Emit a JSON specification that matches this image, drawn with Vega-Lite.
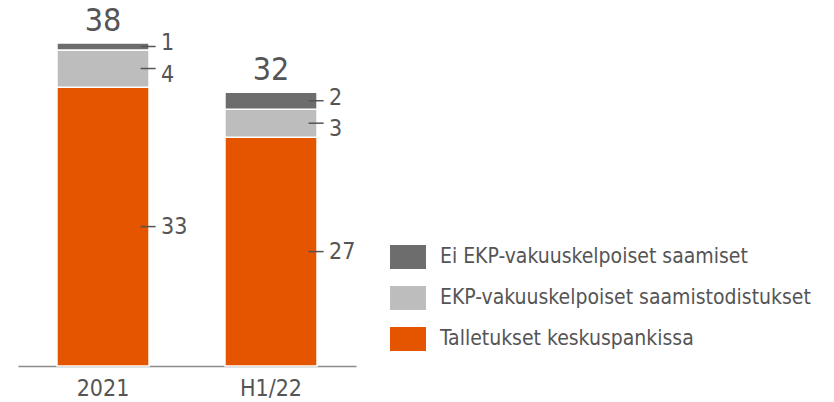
{
  "$schema": "https://vega.github.io/schema/vega-lite/v6.json",
  "width": 338,
  "height": 339,
  "autosize": {"type": "none"},
  "padding": {"left": 18, "top": 27, "right": 478, "bottom": 36},
  "background": "white",
  "config": {
    "view": {"stroke": null},
    "font": "DejaVu Sans Condensed, sans-serif",
    "text": {"font": "DejaVu Sans Condensed, sans-serif"}
  },
  "data": {
    "values": [
      {"period": "2021", "series": "Talletukset keskuspankissa", "value": 32.9, "rank": 1},
      {"period": "2021", "series": "EKP-vakuuskelpoiset saamistodistukset", "value": 4.4, "rank": 2},
      {"period": "2021", "series": "Ei EKP-vakuuskelpoiset saamiset", "value": 0.8, "rank": 3},
      {"period": "H1/22", "series": "Talletukset keskuspankissa", "value": 27.0, "rank": 1},
      {"period": "H1/22", "series": "EKP-vakuuskelpoiset saamistodistukset", "value": 3.3, "rank": 2},
      {"period": "H1/22", "series": "Ei EKP-vakuuskelpoiset saamiset", "value": 2.0, "rank": 3}
    ]
  },
  "layer": [
    {
      "mark": {"type": "bar", "stroke": "white", "strokeWidth": 1.5},
      "encoding": {
        "x": {
          "field": "period", "type": "nominal", "sort": null,
          "scale": {"paddingInner": 0.452, "paddingOuter": 0.232},
          "axis": {
            "title": null, "labelAngle": 0, "ticks": false,
            "domainColor": "#8c8c8c", "domainWidth": 1.5,
            "labelFontSize": 23, "labelColor": "#555555", "labelPadding": 11,
            "labelFont": "DejaVu Sans Condensed, sans-serif"
          }
        },
        "y": {
          "field": "value", "type": "quantitative", "stack": "zero",
          "scale": {"domain": [0, 40], "nice": false},
          "axis": null
        },
        "color": {
          "field": "series", "type": "nominal",
          "scale": {
            "domain": ["Ei EKP-vakuuskelpoiset saamiset", "EKP-vakuuskelpoiset saamistodistukset", "Talletukset keskuspankissa"],
            "range": ["#6d6d6d", "#bdbdbd", "#e55500"]
          },
          "legend": {
            "orient": "none", "legendX": 378, "legendY": 218, "title": null,
            "symbolType": "M-1.5,-1H1.5V1H-1.5Z", "symbolSize": 576, "symbolStrokeWidth": 0,
            "labelFontSize": 21, "labelColor": "#555555", "labelOffset": 20,
            "labelFont": "DejaVu Sans Condensed, sans-serif",
            "rowPadding": 17, "padding": 0, "labelLimit": 500
          }
        },
        "order": {"field": "rank", "type": "quantitative"}
      }
    },
    {
      "mark": {"type": "point", "shape": "M-1,0L1,0", "filled": false, "stroke": "#555555", "strokeWidth": 1.5, "size": 225, "opacity": 1},
      "encoding": {
        "x": {"field": "period", "type": "nominal", "sort": null, "bandPosition": 0.99},
        "y": {"field": "value", "type": "quantitative", "stack": "zero", "bandPosition": 0.5},
        "detail": {"field": "series"},
        "order": {"field": "rank", "type": "quantitative"}
      }
    },
    {
      "mark": {"type": "text", "align": "left", "baseline": "middle", "dx": 12, "fontSize": 23, "color": "#555555"},
      "encoding": {
        "x": {"field": "period", "type": "nominal", "sort": null, "bandPosition": 1},
        "y": {"field": "value", "type": "quantitative", "stack": "zero", "bandPosition": 0.5},
        "detail": {"field": "series"},
        "order": {"field": "rank", "type": "quantitative"},
        "text": {"condition": {"test": "datum.rank === 1", "field": "value", "type": "quantitative", "format": ".0f"}, "value": ""}
      }
    },
    {
      "mark": {"type": "text", "align": "left", "baseline": "middle", "dx": 12, "dy": 6, "fontSize": 23, "color": "#555555"},
      "encoding": {
        "x": {"field": "period", "type": "nominal", "sort": null, "bandPosition": 1},
        "y": {"field": "value", "type": "quantitative", "stack": "zero", "bandPosition": 0.5},
        "detail": {"field": "series"},
        "order": {"field": "rank", "type": "quantitative"},
        "text": {"condition": {"test": "datum.rank === 2", "field": "value", "type": "quantitative", "format": ".0f"}, "value": ""}
      }
    },
    {
      "mark": {"type": "text", "align": "left", "baseline": "middle", "dx": 12, "dy": -3, "fontSize": 23, "color": "#555555"},
      "encoding": {
        "x": {"field": "period", "type": "nominal", "sort": null, "bandPosition": 1},
        "y": {"field": "value", "type": "quantitative", "stack": "zero", "bandPosition": 0.5},
        "detail": {"field": "series"},
        "order": {"field": "rank", "type": "quantitative"},
        "text": {"condition": {"test": "datum.rank === 3", "field": "value", "type": "quantitative", "format": ".0f"}, "value": ""}
      }
    },
    {
      "mark": {"type": "text", "align": "center", "baseline": "alphabetic", "dy": -12, "fontSize": 32, "color": "#555555"},
      "encoding": {
        "x": {"field": "period", "type": "nominal", "sort": null},
        "y": {"aggregate": "sum", "field": "value", "type": "quantitative"},
        "text": {"aggregate": "sum", "field": "value", "type": "quantitative", "format": ".0f"}
      }
    }
  ]
}
